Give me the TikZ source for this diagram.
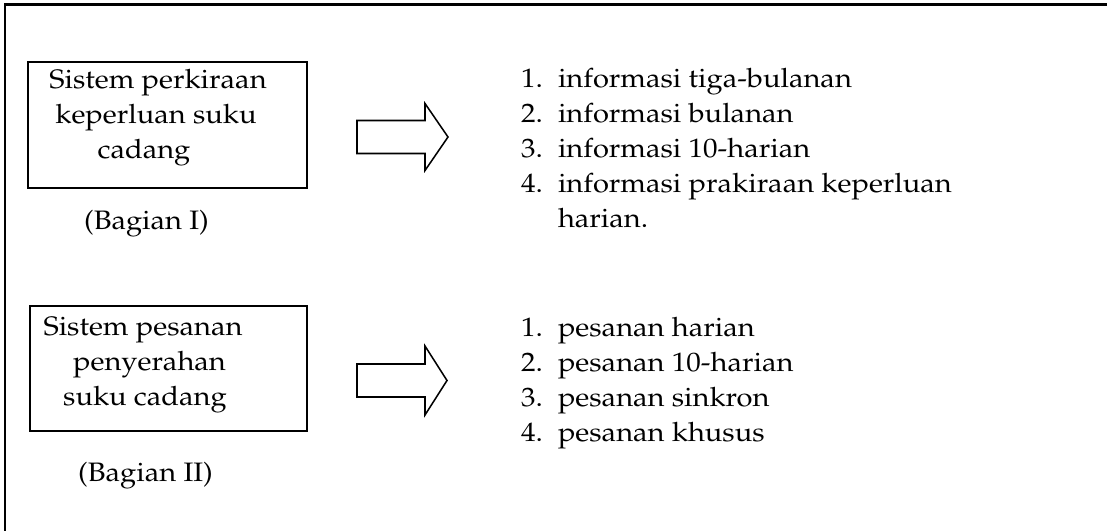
\documentclass[tikz,border=0pt]{standalone}
\usepackage[T1]{fontenc}
\renewcommand{\rmdefault}{ppl}
\usetikzlibrary{fit}
% slightly widened Palladio for the running text
\newcommand{\widetext}[1]{\scalebox{1.09}[1]{#1}}
\begin{document}
\begin{tikzpicture}[x=0.75pt,y=-0.75pt,
  every node/.style={inner sep=0pt,outer sep=0pt},
  body/.style={font=\fontsize{20}{24}\selectfont},
  txt/.style={body,anchor=base},
  itm/.style={body,anchor=base west},
  sysbox/.style={draw,line width=1.5pt,inner sep=0pt},
  blockarrow/.style={draw,line width=1.15pt,line join=miter},
  framerule/.style={line width=1.6pt}]
\useasboundingbox (0,0) rectangle (1107,531);

% page frame (top and left rules)
\draw[framerule] (1107,4.5) -- (5,4.5) -- (5,531);

% ---- Bagian I ----
\coordinate (b1nw) at (28,62);
\coordinate (b1se) at (307,188);
\node[sysbox,fit=(b1nw)(b1se)] (box1) {};
\node[txt] (b1l1) at (158,89)  {\widetext{Sistem perkiraan}};
\node[txt] (b1l2) at (156,124) {\widetext{keperluan suku}};
\node[txt] (b1l3) at (144,159) {\widetext{cadang}};
\node[txt] (cap1) at (146.5,229) {\widetext{(Bagian I)}};

\coordinate (a1) at (357,137);
\draw[blockarrow] (a1) ++(0,-16.5) -- ++(68,0) -- ++(0,-17) -- ++(23,33.5)
  -- ++(-23,33.5) -- ++(0,-17) -- ++(-68,0) -- cycle;

\node[itm] (n11) at (521,88)  {\widetext{1.}};
\node[itm] (i11) at (558,88)  {\widetext{informasi tiga-bulanan}};
\node[itm] (n12) at (521,123) {\widetext{2.}};
\node[itm] (i12) at (558,123) {\widetext{informasi bulanan}};
\node[itm] (n13) at (521,158) {\widetext{3.}};
\node[itm] (i13) at (558,158) {\widetext{informasi 10-harian}};
\node[itm] (n14) at (521,193) {\widetext{4.}};
\node[itm] (i14) at (558,193) {\widetext{informasi prakiraan keperluan}};
\node[itm] (i15) at (558,228) {\widetext{harian.}};

% ---- Bagian II ----
\coordinate (b2nw) at (30,306);
\coordinate (b2se) at (307,431);
\node[sysbox,fit=(b2nw)(b2se)] (box2) {};
\node[txt] (b2l1) at (143,335) {\widetext{Sistem pesanan}};
\node[txt] (b2l2) at (149.5,370) {\widetext{penyerahan}};
\node[txt] (b2l3) at (145,405) {\widetext{suku cadang}};
\node[txt] (cap2) at (145.5,481) {\widetext{(Bagian II)}};

\coordinate (a2) at (357,380.5);
\draw[blockarrow] (a2) ++(0,-16.5) -- ++(68,0) -- ++(0,-18) -- ++(22,34.5)
  -- ++(-22,34.5) -- ++(0,-18) -- ++(-68,0) -- cycle;

\node[itm] (n21) at (521,336) {\widetext{1.}};
\node[itm] (i21) at (558,336) {\widetext{pesanan harian}};
\node[itm] (n22) at (521,371) {\widetext{2.}};
\node[itm] (i22) at (558,371) {\widetext{pesanan 10-harian}};
\node[itm] (n23) at (521,406) {\widetext{3.}};
\node[itm] (i23) at (558,406) {\widetext{pesanan sinkron}};
\node[itm] (n24) at (521,441) {\widetext{4.}};
\node[itm] (i24) at (558,441) {\widetext{pesanan khusus}};
\end{tikzpicture}
\end{document}
